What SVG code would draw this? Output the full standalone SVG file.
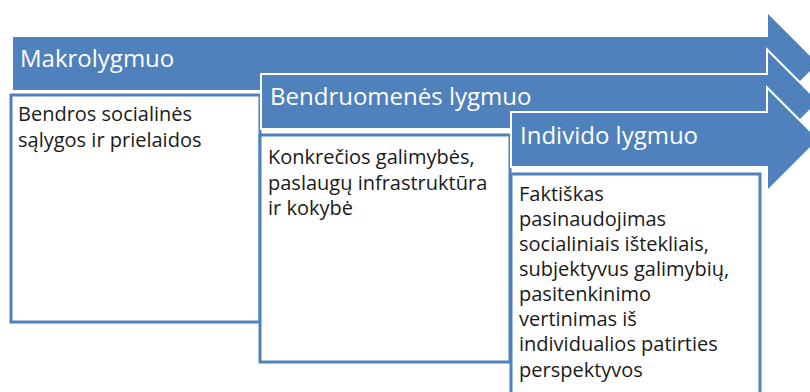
<svg xmlns="http://www.w3.org/2000/svg" width="810" height="392" viewBox="0 0 810 392">
<style>
.arrow{fill:#4F81BD;stroke:#ffffff;stroke-width:2;stroke-linejoin:miter}
.box{fill:#ffffff;stroke:#4F81BD;stroke-width:3}
.title{font-family:"Open Sans","Noto Sans",sans-serif;font-size:24px;fill:#ffffff}
.body{font-family:"Open Sans","Noto Sans",sans-serif;font-size:20px;fill:#1a1a1a}
</style>
<rect width="810" height="392" fill="#ffffff"/>
<g id="makro">
<path class="arrow" d="M12,36 H767 V11.5 L819,63.5 L767,115.5 V91 H12 Z"/>
<text class="title" x="20" y="67">Makrolygmuo</text>
<rect class="box" x="11" y="95" width="249" height="227"/>
<text class="body"><tspan x="18" y="121">Bendros socialinės</tspan><tspan x="18" y="146.5">sąlygos ir prielaidos</tspan></text>
</g>
<g id="bendruomene">
<path class="arrow" d="M261,74 H767 V49.5 L819,101.5 L767,153.5 V129 H261 Z"/>
<text class="title" x="270" y="105">Bendruomenės lygmuo</text>
<rect class="box" x="260" y="135" width="250" height="227"/>
<text class="body"><tspan x="268" y="164">Konkrečios galimybės,</tspan><tspan x="268" y="189.5">paslaugų infrastruktūra</tspan><tspan x="268" y="215">ir kokybė</tspan></text>
</g>
<g id="individas">
<path class="arrow" d="M511,112 H767 V87.5 L819,139.5 L767,191.5 V167 H511 Z"/>
<text class="title" x="520" y="144">Individo lygmuo</text>
<rect class="box" x="511" y="174" width="249" height="230"/>
<text class="body"><tspan x="519" y="200.5">Faktiškas</tspan><tspan x="519" y="225.7">pasinaudojimas</tspan><tspan x="519" y="250.8">socialiniais ištekliais,</tspan><tspan x="519" y="276">subjektyvus galimybių,</tspan><tspan x="519" y="301.1">pasitenkinimo</tspan><tspan x="519" y="326.3">vertinimas iš</tspan><tspan x="519" y="351.4">individualios patirties</tspan><tspan x="519" y="376.6">perspektyvos</tspan></text>
</g>
<g id="connectors"></g>
</svg>
